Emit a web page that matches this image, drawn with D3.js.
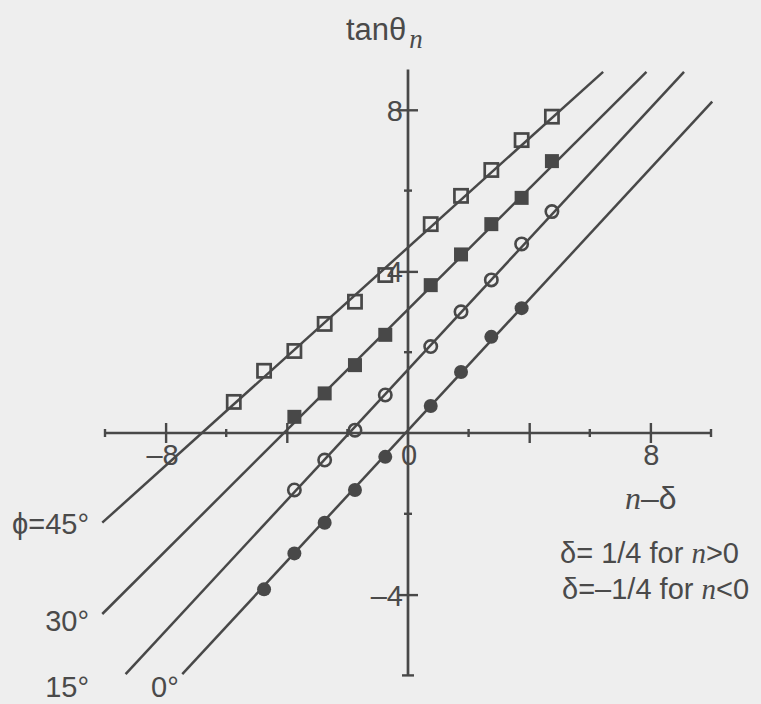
<!DOCTYPE html>
<html>
<head>
<meta charset="utf-8">
<script src="https://cdn.jsdelivr.net/npm/d3@7/dist/d3.min.js"></script>
<style>
  html, body { margin: 0; padding: 0; background: #eeeeee; }
  svg { display: block; }
  text { font-family: "Liberation Sans", Arial, Helvetica, sans-serif; fill: #4a4a4a; }
  .it { font-family: "Liberation Serif", "Times New Roman", serif; font-style: italic; }
</style>
</head>
<body>
<svg id="chart" width="761" height="704"></svg>
<script>
// n - delta positions and tan(theta_n) for each phi
const x0deg  = [-4.75, -3.75, -2.75, -1.75, -0.75, 0.75, 1.75, 2.75, 3.75];
const y0deg  = [-3.87, -2.98, -2.22, -1.41, -0.59, 0.67, 1.51, 2.38, 3.09];

const x15deg = [-3.75, -2.75, -1.75, -0.75, 0.75, 1.75, 2.75, 3.75, 4.75];
const y15deg = [-1.41, -0.67, 0.07, 0.94, 2.14, 3.00, 3.79, 4.68, 5.48];

const x30deg = [-3.75, -2.75, -1.75, -0.75, 0.75, 1.75, 2.75, 3.75, 4.75];
const y30deg = [0.40, 0.98, 1.68, 2.43, 3.66, 4.42, 5.17, 5.82, 6.73];

const x45deg = [-5.75, -4.75, -3.75, -2.75, -1.75, -0.75, 0.75, 1.75, 2.75, 3.75, 4.75];
const y45deg = [0.77, 1.54, 2.03, 2.70, 3.25, 3.91, 5.17, 5.87, 6.51, 7.25, 7.83];

// fitted straight lines: [x, y] at both ends
const line0deg  = [[-7.45, -5.97], [10.04, 8.20]];
const line15deg = [[-9.32, -5.97], [9.11, 8.94]];
const line30deg = [[-10.09, -4.48], [7.87, 8.94]];
const line45deg = [[-10.09, -2.22], [6.44, 8.94]];

// axes
const xDomain = [-10, 10];
const yDomain = [-6, 9];
const xMajorTicks = [-8, -4, 4, 8];
const xMinorTicks = [-6, -2, 2, 6];
const yMajorTicks = [-4, 4, 8];
const yMinorTicks = [-2, 2, 6];
const xTickLabels = [[-8, "\u20138"], [0, "0"], [8, "8"]];
const yTickLabels = [[8, "8"], [4, "4"], [-4, "\u20134"]];

const ink = "#484848";
const svg = d3.select("#chart");

const x = d3.scaleLinear().domain(xDomain).range([105, 711]);
const y = d3.scaleLinear().domain(yDomain).range([675.4, 69.4]);

// x axis: majors cross the line, minors are short
const gx = svg.append("g").attr("transform", `translate(0,${y(0)})`)
  .call(d3.axisBottom(x).tickValues(xMajorTicks).tickSize(10).tickFormat(""));
gx.select(".domain").remove();
gx.selectAll(".tick line").attr("y1", -10).attr("y2", 10).attr("stroke", ink).attr("stroke-width", 2.4);
svg.append("line").attr("x1", x(-10)).attr("x2", x(10)).attr("y1", y(0)).attr("y2", y(0))
  .attr("stroke", ink).attr("stroke-width", 2.7);
svg.selectAll(".xminor").data(xMinorTicks.concat([-10, 10])).join("line")
  .attr("x1", d => x(d)).attr("x2", d => x(d))
  .attr("y1", y(0) - 4).attr("y2", y(0) + 4)
  .attr("stroke", ink).attr("stroke-width", 2.4);

// y axis
const gy = svg.append("g").attr("transform", `translate(${x(0)},0)`)
  .call(d3.axisLeft(y).tickValues(yMajorTicks).tickSize(10).tickFormat(""));
gy.select(".domain").remove();
gy.selectAll(".tick line").attr("x1", -10).attr("x2", 10).attr("stroke", ink).attr("stroke-width", 2.4);
svg.append("line").attr("x1", x(0)).attr("x2", x(0)).attr("y1", y(9)).attr("y2", y(-6))
  .attr("stroke", ink).attr("stroke-width", 2.7);
svg.selectAll(".yminor").data(yMinorTicks.concat([-6])).join("line")
  .attr("x1", d => x(0) - (d === -6 ? 6 : 4)).attr("x2", d => x(0) + (d === -6 ? 6 : 4))
  .attr("y1", d => y(d)).attr("y2", d => y(d))
  .attr("stroke", ink).attr("stroke-width", 2.4);

// tick labels
svg.selectAll(".xlab").data(xTickLabels).join("text")
  .attr("x", d => x(d[0]) + (d[0] < 0 ? -3 : 1))
  .attr("y", y(0) + 32)
  .attr("text-anchor", "middle").attr("font-size", 29)
  .text(d => d[1]);
svg.selectAll(".ylab").data(yTickLabels).join("text")
  .attr("x", x(0) - 5)
  .attr("y", d => y(d[0]) + 11)
  .attr("text-anchor", "end").attr("font-size", 29)
  .text(d => d[1]);

// lines
const lineGen = d3.line().x(d => x(d[0])).y(d => y(d[1]));
[line0deg, line15deg, line30deg, line45deg].forEach(l => {
  svg.append("path").attr("d", lineGen(l)).attr("fill", "none")
    .attr("stroke", ink).attr("stroke-width", 2.5);
});

// markers
const pts = (xs, ys) => xs.map((v, i) => [v, ys[i]]);
svg.selectAll(".m0").data(pts(x0deg, y0deg)).join("circle")
  .attr("cx", d => x(d[0])).attr("cy", d => y(d[1])).attr("r", 7).attr("fill", ink);
svg.selectAll(".m15").data(pts(x15deg, y15deg)).join("circle")
  .attr("cx", d => x(d[0])).attr("cy", d => y(d[1])).attr("r", 6.2)
  .attr("fill", "none").attr("stroke", ink).attr("stroke-width", 2.6);
svg.selectAll(".m30").data(pts(x30deg, y30deg)).join("rect")
  .attr("x", d => x(d[0]) - 7).attr("y", d => y(d[1]) - 7)
  .attr("width", 14).attr("height", 14).attr("fill", ink);
svg.selectAll(".m45").data(pts(x45deg, y45deg)).join("rect")
  .attr("x", d => x(d[0]) - 6.6).attr("y", d => y(d[1]) - 6.6)
  .attr("width", 13.2).attr("height", 13.2)
  .attr("fill", "none").attr("stroke", ink).attr("stroke-width", 2.7);

// axis titles
const t = svg.append("text").attr("x", 346).attr("y", 40).attr("font-size", 31);
t.append("tspan").text("tan\u03b8");
t.append("tspan").attr("class", "it").attr("font-size", 27).attr("dx", 3).attr("dy", 8).text("n");

const xt = svg.append("text").attr("x", 625).attr("y", 509).attr("font-size", 32);
xt.append("tspan").attr("class", "it").text("n");
xt.append("tspan").text("\u2013\u03b4");

// delta convention
const d1 = svg.append("text").attr("x", 560).attr("y", 563).attr("font-size", 29);
d1.append("tspan").text("\u03b4= 1/4 for ");
d1.append("tspan").attr("class", "it").text("n");
d1.append("tspan").text(">0");
const d2 = svg.append("text").attr("x", 562).attr("y", 599).attr("font-size", 29);
d2.append("tspan").text("\u03b4=\u20131/4 for ");
d2.append("tspan").attr("class", "it").text("n");
d2.append("tspan").text("<0");

// phi labels at the lower ends of the lines
const phiLabels = [["\u03d5=45\u00b0", 89, 534, "end"], ["30\u00b0", 89, 631, "end"],
                   ["15\u00b0", 89, 697, "end"], ["0\u00b0", 151, 697, "start"]];
svg.selectAll(".phi").data(phiLabels).join("text")
  .attr("x", d => d[1]).attr("y", d => d[2]).attr("text-anchor", d => d[3])
  .attr("font-size", 29).text(d => d[0]);
</script>
</body>
</html>
